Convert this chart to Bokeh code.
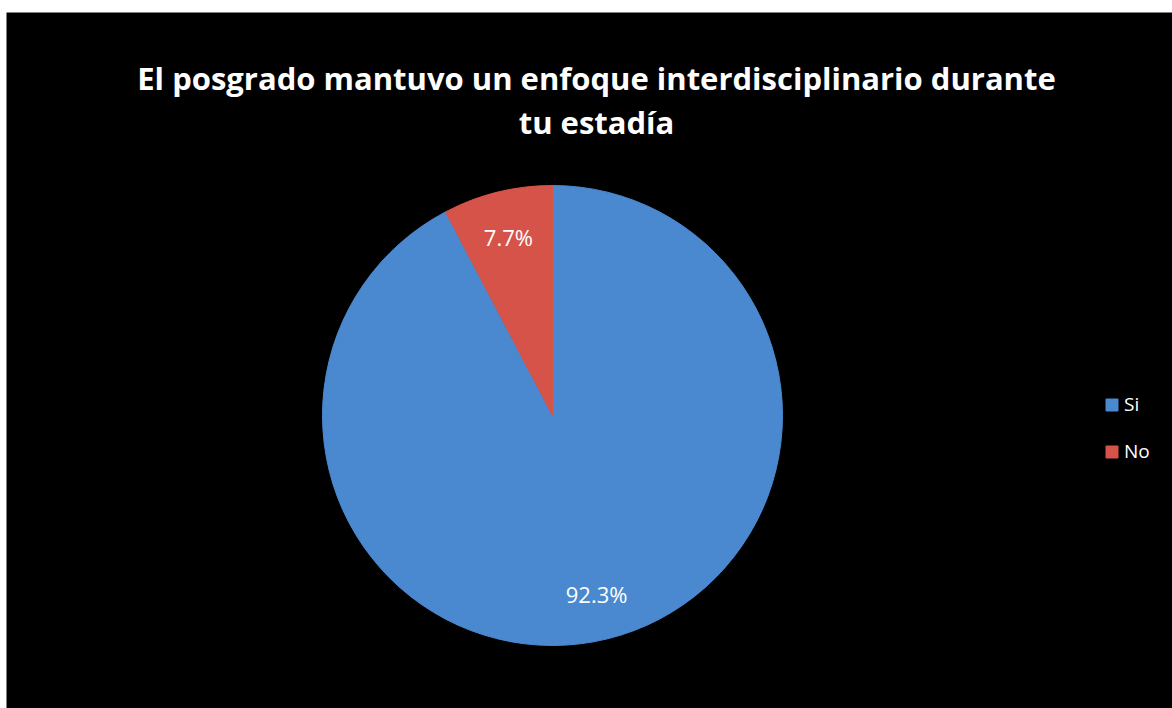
import numpy as np
from bokeh.plotting import figure
from bokeh.models import Range1d, ColumnDataSource, Legend, LegendItem
from bokeh.core.properties import value
from bokeh.embed import file_html
from bokeh.resources import INLINE

# ---- data ----
categories = ["Si", "No"]
percentages = [92.3, 7.7]
labels = ["92.3%", "7.7%"]
colors = ["#4a89d0", "#d6534a"]
title_lines = ["El posgrado mantuvo un enfoque interdisciplinario durante", "tu estadía"]

W, H = 1172, 708
LB, TB = 6, 12
FW, FH = W - LB, H - TB
p = figure(width=W, height=H, output_backend="svg", toolbar_location=None,
           x_range=Range1d(0, FW), y_range=Range1d(0, FH),
           background_fill_color="black", border_fill_color="white",
           min_border=0, min_border_left=LB, min_border_top=TB,
           outline_line_color=None)
p.axis.visible = False
p.grid.visible = False

cx, cy, R = 546, 293, 230

frac = np.array(percentages) / sum(percentages)
order = [1, 0]  # counter-clockwise from 12 o'clock: No, then Si
starts, ends = {}, {}
a = np.pi / 2
for i in order:
    starts[i] = a
    a = a + frac[i] * 2 * np.pi
    ends[i] = a

src = ColumnDataSource(dict(
    cat=categories,
    start=[starts[i] for i in range(len(categories))],
    end=[ends[i] for i in range(len(categories))],
    color=colors,
))
r = p.wedge(x=cx, y=cy, radius=R, start_angle="start", end_angle="end",
            fill_color="color", line_color="color", line_width=1, source=src)

mid = [(starts[i] + ends[i]) / 2 for i in range(len(categories))]
lx = [cx + 0.8 * R * np.cos(m) for m in mid]
ly = [cy + 0.8 * R * np.sin(m) for m in mid]
p.text(x=lx, y=ly, text=labels, text_color="white", text_font=value("Open Sans"),
       text_font_size="22px", text_align="center", text_baseline="middle")

p.text(x=[590, 590], y=[631, 587], text=title_lines, text_color="white",
       text_font=value("Open Sans"), text_font_style="bold", text_font_size="31px",
       text_align="center", text_baseline="alphabetic")

legend = Legend(items=[LegendItem(label=categories[i], renderers=[r], index=i) for i in range(len(categories))],
                location=(1098, 244), background_fill_alpha=0, border_line_color=None,
                label_text_color="white", label_text_font="Open Sans", label_text_font_size="19px",
                glyph_width=15, glyph_height=15, label_standoff=5, spacing=21,
                padding=0, margin=0)
p.add_layout(legend, "center")

open("out.html", "w").write(file_html(p, INLINE))
